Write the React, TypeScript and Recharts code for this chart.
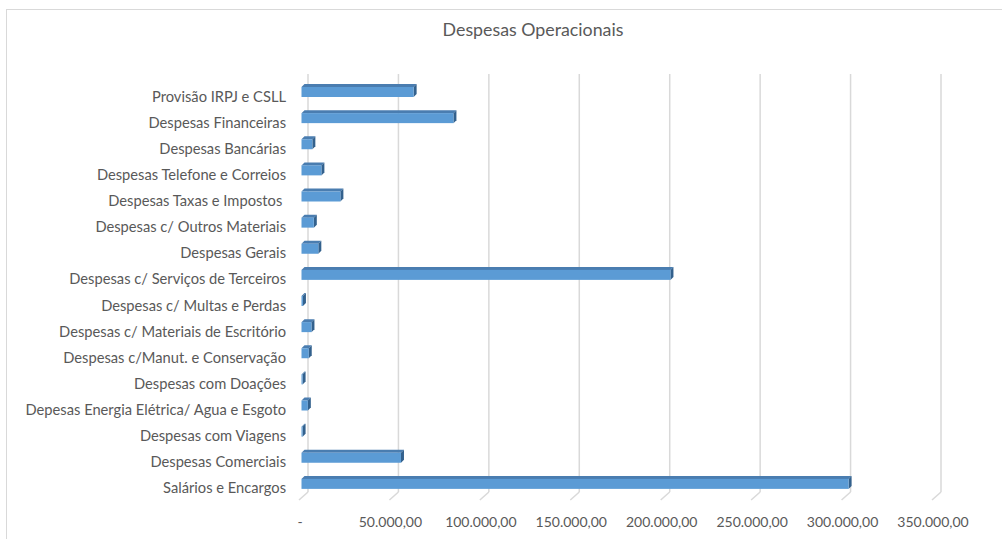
import { BarChart, Bar, XAxis, YAxis, CartesianGrid } from "recharts";

const categories = [
  "Provisão IRPJ e CSLL",
  "Despesas Financeiras",
  "Despesas Bancárias",
  "Despesas Telefone e Correios",
  "Despesas Taxas e Impostos ",
  "Despesas c/ Outros Materiais",
  "Despesas Gerais",
  "Despesas c/ Serviços de Terceiros",
  "Despesas c/ Multas e Perdas",
  "Despesas c/ Materiais de Escritório",
  "Despesas c/Manut. e Conservação",
  "Despesas com Doações",
  "Depesas Energia Elétrica/ Agua e Esgoto",
  "Despesas com Viagens",
  "Despesas Comerciais",
  "Salários e Encargos",
];

const values = [
  62000, 84000, 6000, 11000, 21500, 6800, 9300, 204000,
  800, 5500, 4000, 600, 3500, 600, 55000, 302500,
];

const xTicks = [0, 50000, 100000, 150000, 200000, 250000, 300000, 350000];

const data = categories.map((name, i) => ({ name, value: values[i] }));

const FONT = "Lato, 'Open Sans', sans-serif";
const TEXT = "#595959";
const GRID = "#D9D9D9";

// back wall / floor depth used to fake Excel's 3D look
const WALL_DX = 6.5;
const FLOOR_BACK_Y = 492;

function fmtBR(v: number) {
  if (!v) return "-";
  const [int, dec] = v.toFixed(2).split(".");
  return int.replace(/\B(?=(\d{3})+(?!\d))/g, ".") + "," + dec;
}

// front face + top face + right side face
function Bar3D(props: any) {
  const { x, y, width, height } = props;
  const fx = x - WALL_DX;
  const w = Math.max(width, 0.6);
  const d = 3;
  return (
    <g>
      <polygon
        points={`${fx},${y} ${fx + d},${y - d} ${fx + w + d},${y - d} ${fx + w},${y}`}
        fill="#4A7DB0"
      />
      <polygon
        points={`${fx + w},${y} ${fx + w + d},${y - d} ${fx + w + d},${y + height - d} ${fx + w},${y + height}`}
        fill="#33618D"
      />
      <rect x={fx} y={y} width={w} height={height} fill="#5B9BD5" />
    </g>
  );
}

function XTick({ x, y, payload }: any) {
  return (
    <g>
      <line x1={x} y1={FLOOR_BACK_Y} x2={x - 9} y2={FLOOR_BACK_Y + 8} stroke={GRID} strokeWidth={1.5} />
      <text x={x - 8} y={y + 22} textAnchor="middle" fill={TEXT} fontSize={14} fontFamily={FONT}>
        {fmtBR(payload.value)}
      </text>
    </g>
  );
}

function YTick({ x, y, payload }: any) {
  return (
    <text
      x={x}
      y={y}
      dy={3.5}
      textAnchor="end"
      dominantBaseline="central"
      fill={TEXT}
      fontSize={14.7}
      fontFamily={FONT}
      style={{ whiteSpace: "pre" }}
    >
      {payload.value}
    </text>
  );
}

export default function App() {
  return (
    <div
      style={{
        position: "absolute",
        left: 0,
        top: 0,
        width: 1002,
        height: 539,
        background: "#fff",
        overflow: "hidden",
      }}
    >
      <div
        style={{
          position: "absolute",
          left: 6,
          top: 9,
          width: 1100,
          height: 600,
          borderTop: `1px solid ${GRID}`,
          borderLeft: `1px solid ${GRID}`,
        }}
      />
      <div
        style={{
          position: "absolute",
          left: 0,
          width: 1066,
          top: 18,
          textAlign: "center",
          fontFamily: FONT,
          fontSize: 17.8,
          color: TEXT,
        }}
      >
        Despesas Operacionais
      </div>
      <div style={{ position: "absolute", left: 0, top: 0 }}>
        <BarChart
          width={1002}
          height={539}
          data={data}
          layout="vertical"
          margin={{ top: 79, right: 61, bottom: 12, left: 0 }}
        >
          <CartesianGrid horizontal={false} stroke={GRID} strokeWidth={1.5} y={74} height={FLOOR_BACK_Y - 74} />
          <XAxis
            type="number"
            domain={[0, 350000]}
            ticks={xTicks}
            height={30}
            axisLine={false}
            tickLine={false}
            tick={<XTick />}
            interval={0}
          />
          <YAxis
            type="category"
            dataKey="name"
            width={308}
            axisLine={false}
            tickLine={false}
            tickMargin={16}
            tick={<YTick />}
            interval={0}
          />
          <Bar dataKey="value" barSize={10} shape={<Bar3D />} isAnimationActive={false} />
        </BarChart>
      </div>
    </div>
  );
}
